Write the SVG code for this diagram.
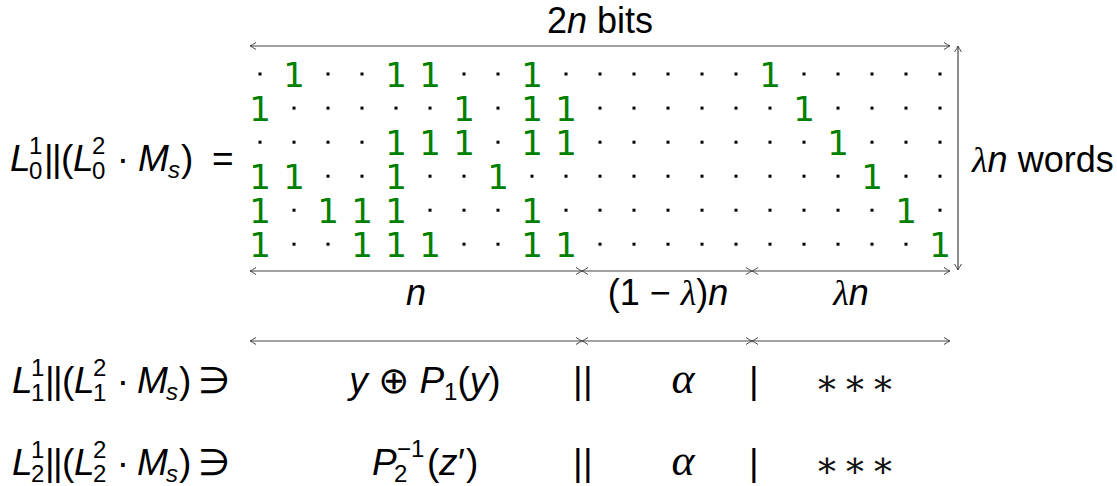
<svg xmlns="http://www.w3.org/2000/svg" width="1117" height="486" viewBox="0 0 1117 486">
<defs>
<style>
text{font-family:"Liberation Sans","DejaVu Sans",sans-serif;font-size:37px;fill:#000}
.it{font-style:italic}
.sm{font-size:24px}
.lb{font-size:36px}
.gr{font-family:"Liberation Serif","DejaVu Serif",serif;font-style:italic}
.al{font-family:"Liberation Serif","DejaVu Serif",serif;font-style:italic;font-size:44px;text-anchor:middle}
.ast{font-family:"DejaVu Serif",serif;font-size:36px;text-anchor:middle;fill:#111}
.one{font-family:"DejaVu Sans",sans-serif;font-size:34px;fill:#008000;text-anchor:middle}
.dot{fill:#000}
.ar{stroke:#444;stroke-width:1.2;fill:none;marker-start:url(#ah);marker-end:url(#ah)}
.mid{text-anchor:middle}
</style>
<marker id="ah" viewBox="-8 -5 10 10" refX="0" refY="0" markerWidth="10" markerHeight="10" markerUnits="userSpaceOnUse" orient="auto-start-reverse">
<path d="M-6,-3.5 Q-2,-0.8 0,0 Q-2,0.8 -6,3.5" fill="none" stroke="#444" stroke-width="1"/>
</marker>
</defs>
<rect width="1117" height="486" fill="#fff"/>

<g id="connectors">
<line class="ar" x1="250" y1="46" x2="950" y2="46"/>
<line class="ar" x1="958" y1="46" x2="958" y2="270"/>
<line class="ar" x1="250" y1="271" x2="582" y2="271"/>
<line class="ar" x1="582" y1="271" x2="752" y2="271"/>
<line class="ar" x1="752" y1="271" x2="950" y2="271"/>
<line class="ar" x1="250" y1="341" x2="582" y2="341"/>
<line class="ar" x1="582" y1="341" x2="752" y2="341"/>
<line class="ar" x1="752" y1="341" x2="950" y2="341"/>
</g>

<g id="labels">
<text class="lb mid" x="600" y="33">2<tspan class="it">n</tspan> bits</text>
<text class="lb" x="972" y="172"><tspan class="gr">λ</tspan><tspan class="it">n</tspan> words</text>
<text class="lb mid it" x="416" y="305">n</text>
<text class="lb mid" x="668" y="305">(1 − <tspan class="gr">λ</tspan>)<tspan class="it">n</tspan></text>
<text class="lb mid" x="851" y="305"><tspan class="gr">λ</tspan><tspan class="it">n</tspan></text>
</g>

<g id="lhs0">
<text class="it" x="10" y="171">L</text>
<text class="sm" x="29" y="154">1</text>
<text class="sm" x="29" y="179">0</text>
<text x="44" y="171">|</text><text x="52" y="171">|</text><text x="61" y="171">(</text>
<text class="it" x="73" y="171">L</text>
<text class="sm" x="92" y="154">2</text>
<text class="sm" x="92" y="179">0</text>
<text class="mid" x="123" y="171">·</text>
<text class="it" x="138" y="171">M</text>
<text class="sm it" x="168" y="178">s</text>
<text x="181" y="171">)</text>
<text x="212" y="171">=</text>
</g>

<g id="matrix">
<g id="row0">
<rect class="dot" x="258.5" y="72.5" width="3" height="3"/>
<text class="one" x="294" y="86.5">1</text>
<rect class="dot" x="326.5" y="72.5" width="3" height="3"/>
<rect class="dot" x="360.5" y="72.5" width="3" height="3"/>
<text class="one" x="396" y="86.5">1</text>
<text class="one" x="430" y="86.5">1</text>
<rect class="dot" x="462.5" y="72.5" width="3" height="3"/>
<rect class="dot" x="496.5" y="72.5" width="3" height="3"/>
<text class="one" x="532" y="86.5">1</text>
<rect class="dot" x="564.5" y="72.5" width="3" height="3"/>
<rect class="dot" x="598.5" y="72.5" width="3" height="3"/>
<rect class="dot" x="632.5" y="72.5" width="3" height="3"/>
<rect class="dot" x="666.5" y="72.5" width="3" height="3"/>
<rect class="dot" x="700.5" y="72.5" width="3" height="3"/>
<rect class="dot" x="734.5" y="72.5" width="3" height="3"/>
<text class="one" x="770" y="86.5">1</text>
<rect class="dot" x="802.5" y="72.5" width="3" height="3"/>
<rect class="dot" x="836.5" y="72.5" width="3" height="3"/>
<rect class="dot" x="870.5" y="72.5" width="3" height="3"/>
<rect class="dot" x="904.5" y="72.5" width="3" height="3"/>
<rect class="dot" x="938.5" y="72.5" width="3" height="3"/>
</g>
<g id="row1">
<text class="one" x="260" y="120.6">1</text>
<rect class="dot" x="292.5" y="106.6" width="3" height="3"/>
<rect class="dot" x="326.5" y="106.6" width="3" height="3"/>
<rect class="dot" x="360.5" y="106.6" width="3" height="3"/>
<rect class="dot" x="394.5" y="106.6" width="3" height="3"/>
<rect class="dot" x="428.5" y="106.6" width="3" height="3"/>
<text class="one" x="464" y="120.6">1</text>
<rect class="dot" x="496.5" y="106.6" width="3" height="3"/>
<text class="one" x="532" y="120.6">1</text>
<text class="one" x="566" y="120.6">1</text>
<rect class="dot" x="598.5" y="106.6" width="3" height="3"/>
<rect class="dot" x="632.5" y="106.6" width="3" height="3"/>
<rect class="dot" x="666.5" y="106.6" width="3" height="3"/>
<rect class="dot" x="700.5" y="106.6" width="3" height="3"/>
<rect class="dot" x="734.5" y="106.6" width="3" height="3"/>
<rect class="dot" x="768.5" y="106.6" width="3" height="3"/>
<text class="one" x="804" y="120.6">1</text>
<rect class="dot" x="836.5" y="106.6" width="3" height="3"/>
<rect class="dot" x="870.5" y="106.6" width="3" height="3"/>
<rect class="dot" x="904.5" y="106.6" width="3" height="3"/>
<rect class="dot" x="938.5" y="106.6" width="3" height="3"/>
</g>
<g id="row2">
<rect class="dot" x="258.5" y="140.7" width="3" height="3"/>
<rect class="dot" x="292.5" y="140.7" width="3" height="3"/>
<rect class="dot" x="326.5" y="140.7" width="3" height="3"/>
<rect class="dot" x="360.5" y="140.7" width="3" height="3"/>
<text class="one" x="396" y="154.7">1</text>
<text class="one" x="430" y="154.7">1</text>
<text class="one" x="464" y="154.7">1</text>
<rect class="dot" x="496.5" y="140.7" width="3" height="3"/>
<text class="one" x="532" y="154.7">1</text>
<text class="one" x="566" y="154.7">1</text>
<rect class="dot" x="598.5" y="140.7" width="3" height="3"/>
<rect class="dot" x="632.5" y="140.7" width="3" height="3"/>
<rect class="dot" x="666.5" y="140.7" width="3" height="3"/>
<rect class="dot" x="700.5" y="140.7" width="3" height="3"/>
<rect class="dot" x="734.5" y="140.7" width="3" height="3"/>
<rect class="dot" x="768.5" y="140.7" width="3" height="3"/>
<rect class="dot" x="802.5" y="140.7" width="3" height="3"/>
<text class="one" x="838" y="154.7">1</text>
<rect class="dot" x="870.5" y="140.7" width="3" height="3"/>
<rect class="dot" x="904.5" y="140.7" width="3" height="3"/>
<rect class="dot" x="938.5" y="140.7" width="3" height="3"/>
</g>
<g id="row3">
<text class="one" x="260" y="188.7">1</text>
<text class="one" x="294" y="188.7">1</text>
<rect class="dot" x="326.5" y="174.7" width="3" height="3"/>
<rect class="dot" x="360.5" y="174.7" width="3" height="3"/>
<text class="one" x="396" y="188.7">1</text>
<rect class="dot" x="428.5" y="174.7" width="3" height="3"/>
<rect class="dot" x="462.5" y="174.7" width="3" height="3"/>
<text class="one" x="498" y="188.7">1</text>
<rect class="dot" x="530.5" y="174.7" width="3" height="3"/>
<rect class="dot" x="564.5" y="174.7" width="3" height="3"/>
<rect class="dot" x="598.5" y="174.7" width="3" height="3"/>
<rect class="dot" x="632.5" y="174.7" width="3" height="3"/>
<rect class="dot" x="666.5" y="174.7" width="3" height="3"/>
<rect class="dot" x="700.5" y="174.7" width="3" height="3"/>
<rect class="dot" x="734.5" y="174.7" width="3" height="3"/>
<rect class="dot" x="768.5" y="174.7" width="3" height="3"/>
<rect class="dot" x="802.5" y="174.7" width="3" height="3"/>
<rect class="dot" x="836.5" y="174.7" width="3" height="3"/>
<text class="one" x="872" y="188.7">1</text>
<rect class="dot" x="904.5" y="174.7" width="3" height="3"/>
<rect class="dot" x="938.5" y="174.7" width="3" height="3"/>
</g>
<g id="row4">
<text class="one" x="260" y="222.7">1</text>
<rect class="dot" x="292.5" y="208.7" width="3" height="3"/>
<text class="one" x="328" y="222.7">1</text>
<text class="one" x="362" y="222.7">1</text>
<text class="one" x="396" y="222.7">1</text>
<rect class="dot" x="428.5" y="208.7" width="3" height="3"/>
<rect class="dot" x="462.5" y="208.7" width="3" height="3"/>
<rect class="dot" x="496.5" y="208.7" width="3" height="3"/>
<text class="one" x="532" y="222.7">1</text>
<rect class="dot" x="564.5" y="208.7" width="3" height="3"/>
<rect class="dot" x="598.5" y="208.7" width="3" height="3"/>
<rect class="dot" x="632.5" y="208.7" width="3" height="3"/>
<rect class="dot" x="666.5" y="208.7" width="3" height="3"/>
<rect class="dot" x="700.5" y="208.7" width="3" height="3"/>
<rect class="dot" x="734.5" y="208.7" width="3" height="3"/>
<rect class="dot" x="768.5" y="208.7" width="3" height="3"/>
<rect class="dot" x="802.5" y="208.7" width="3" height="3"/>
<rect class="dot" x="836.5" y="208.7" width="3" height="3"/>
<rect class="dot" x="870.5" y="208.7" width="3" height="3"/>
<text class="one" x="906" y="222.7">1</text>
<rect class="dot" x="938.5" y="208.7" width="3" height="3"/>
</g>
<g id="row5">
<text class="one" x="260" y="256.7">1</text>
<rect class="dot" x="292.5" y="242.7" width="3" height="3"/>
<rect class="dot" x="326.5" y="242.7" width="3" height="3"/>
<text class="one" x="362" y="256.7">1</text>
<text class="one" x="396" y="256.7">1</text>
<text class="one" x="430" y="256.7">1</text>
<rect class="dot" x="462.5" y="242.7" width="3" height="3"/>
<rect class="dot" x="496.5" y="242.7" width="3" height="3"/>
<text class="one" x="532" y="256.7">1</text>
<text class="one" x="566" y="256.7">1</text>
<rect class="dot" x="598.5" y="242.7" width="3" height="3"/>
<rect class="dot" x="632.5" y="242.7" width="3" height="3"/>
<rect class="dot" x="666.5" y="242.7" width="3" height="3"/>
<rect class="dot" x="700.5" y="242.7" width="3" height="3"/>
<rect class="dot" x="734.5" y="242.7" width="3" height="3"/>
<rect class="dot" x="768.5" y="242.7" width="3" height="3"/>
<rect class="dot" x="802.5" y="242.7" width="3" height="3"/>
<rect class="dot" x="836.5" y="242.7" width="3" height="3"/>
<rect class="dot" x="870.5" y="242.7" width="3" height="3"/>
<rect class="dot" x="904.5" y="242.7" width="3" height="3"/>
<text class="one" x="940" y="256.7">1</text>
</g>
</g>

<g id="lhs1">
<text class="it" x="12" y="393">L</text>
<text class="sm" x="31" y="376">1</text>
<text class="sm" x="31" y="401">1</text>
<text x="45" y="393">|</text><text x="53" y="393">|</text><text x="62" y="393">(</text>
<text class="it" x="74" y="393">L</text>
<text class="sm" x="93" y="376">2</text>
<text class="sm" x="93" y="401">1</text>
<text class="mid" x="123" y="393">·</text>
<text class="it" x="137" y="393">M</text>
<text class="sm it" x="166" y="400">s</text>
<text x="179" y="393">)</text>
<text x="198" y="393">∋</text>
</g>
<g id="rhs1">
<text class="mid" x="425" y="393"><tspan class="it">y</tspan> ⊕ <tspan class="it">P</tspan><tspan class="sm" dy="7">1</tspan><tspan dy="-7">(</tspan><tspan class="it">y</tspan>)</text>
<text x="573" y="393">|</text><text x="583" y="393">|</text>
<text class="al" x="683" y="393">α</text>
<text x="749" y="393">|</text>
<text class="ast" x="827" y="395">∗</text><text class="ast" x="855" y="395">∗</text><text class="ast" x="883" y="395">∗</text>
</g>

<g id="lhs2">
<text class="it" x="12" y="475">L</text>
<text class="sm" x="31" y="458">1</text>
<text class="sm" x="31" y="482">2</text>
<text x="45" y="475">|</text><text x="53" y="475">|</text><text x="62" y="475">(</text>
<text class="it" x="74" y="475">L</text>
<text class="sm" x="93" y="458">2</text>
<text class="sm" x="93" y="482">2</text>
<text class="mid" x="123" y="475">·</text>
<text class="it" x="137" y="475">M</text>
<text class="sm it" x="166" y="482">s</text>
<text x="179" y="475">)</text>
<text x="198" y="475">∋</text>
</g>
<g id="rhs2">
<text class="it" x="372" y="475">P</text>
<text class="sm" x="397" y="457">−1</text>
<text class="sm" x="394" y="482">2</text>
<text x="427" y="475">(</text>
<text class="it" x="439" y="475">z</text>
<text x="458" y="475">′</text>
<text x="466" y="475">)</text>
<text x="573" y="475">|</text><text x="583" y="475">|</text>
<text class="al" x="683" y="475">α</text>
<text x="749" y="475">|</text>
<text class="ast" x="827" y="477">∗</text><text class="ast" x="855" y="477">∗</text><text class="ast" x="883" y="477">∗</text>
</g>
</svg>
